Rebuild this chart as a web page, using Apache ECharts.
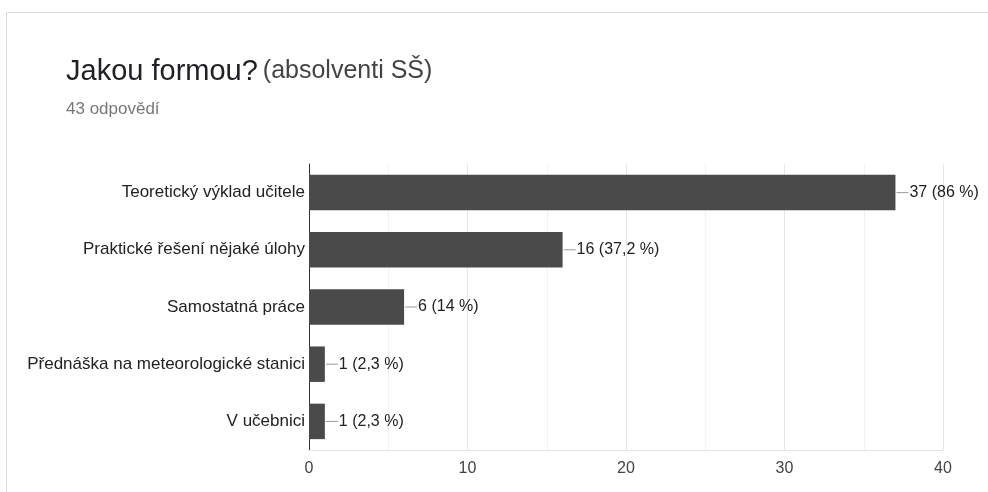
<!DOCTYPE html>
<html>
<head>
<meta charset="utf-8">
<script src="https://cdn.jsdelivr.net/npm/echarts@6/dist/echarts.min.js"></script>
<style>
  html, body { margin: 0; padding: 0; background: #fff; }
  #chart { width: 988px; height: 492px; }
</style>
</head>
<body>
<div id="chart"></div>
<script>
  // odpovědi z formuláře
  const categories = [
    'Teoretický výklad učitele',
    'Praktické řešení nějaké úlohy',
    'Samostatná práce',
    'Přednáška na meteorologické stanici',
    'V učebnici'
  ];
  const counts = [37, 16, 6, 1, 1];
  const percents = ['86', '37,2', '14', '2,3', '2,3'];
  const tickValues = [0, 10, 20, 30, 40];

  const chart = echarts.init(document.getElementById('chart'));
  const font = '"Liberation Sans", Arial, sans-serif';

  const option = {
    animation: false,
    title: {
      left: 61,
      top: 52,
      text: '{a|Jakou formou?} {b|(absolventi SŠ)}',
      textStyle: {
        rich: {
          a: { fontFamily: font, fontSize: 29, fontWeight: 'normal', color: '#202124' },
          b: { fontFamily: font, fontSize: 25, fontWeight: 'normal', color: '#444' }
        }
      },
      subtext: '43 odpovědí',
      itemGap: 15,
      subtextStyle: { fontFamily: font, fontSize: 17, color: '#777' }
    },
    graphic: [{
      type: 'rect',
      shape: { x: 6.5, y: 12.5, width: 1000, height: 500 },
      style: { fill: 'none', stroke: '#dadada', lineWidth: 1 },
      silent: true
    }],
    grid: { left: 309, right: 45, top: 164, bottom: 42 },
    xAxis: {
      type: 'value',
      min: tickValues[0],
      max: tickValues[tickValues.length - 1],
      interval: 10,
      axisLine: { show: true, lineStyle: { color: '#e4e4e4' } },
      axisTick: { show: false },
      axisLabel: { color: '#444', fontSize: 16, fontFamily: font, margin: 11 },
      splitLine: { show: true, lineStyle: { color: '#e6e6e6' } },
      minorTick: { show: false, splitNumber: 2 },
      minorSplitLine: { show: true, lineStyle: { color: '#f2f2f2' } }
    },
    yAxis: {
      type: 'category',
      inverse: true,
      data: categories,
      axisLine: { show: true, lineStyle: { color: '#333', width: 1 } },
      axisTick: { show: false },
      axisLabel: { color: '#222', fontSize: 17, fontFamily: font, margin: 4 }
    },
    series: [{
      type: 'bar',
      data: counts,
      barCategoryGap: '38%',
      itemStyle: { color: '#4a4a4a' },
      label: {
        show: true,
        position: 'right',
        distance: 1,
        formatter: function (p) {
          return '{l| }{t|' + p.value + ' (' + percents[p.dataIndex] + ' %)}';
        },
        rich: {
          l: { width: 12, height: 1, backgroundColor: '#999', verticalAlign: 'middle' },
          t: { fontSize: 16, fontFamily: font, color: '#222', verticalAlign: 'middle', padding: [0, 0, 0, 1] }
        }
      }
    }]
  };

  chart.setOption(option);
</script>
</body>
</html>
